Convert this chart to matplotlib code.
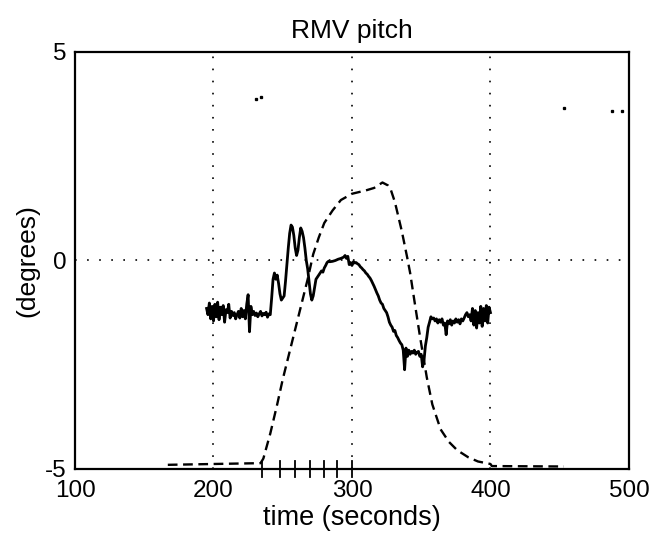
import matplotlib
matplotlib.use("Agg")
import matplotlib.pyplot as plt

plt.rcParams['font.family'] = ['Liberation Sans', 'DejaVu Sans']
plt.rcParams['lines.scale_dashes'] = False
plt.rcParams['axes.unicode_minus'] = False

# measured pitch (solid, noisy)
t_meas = [195, 196, 197, 198, 199, 200, 201, 202, 203, 204, 205, 206, 207, 208, 209,
          210, 211, 212, 213, 214, 215, 216, 217, 218, 219, 220, 221, 222, 223, 224,
          225, 226, 227, 228, 229, 230, 231, 232, 233, 234, 235, 236, 237, 238, 239,
          240, 241, 242, 243, 244, 245, 246, 247, 248, 249, 250, 251, 252, 253, 254,
          255, 256, 257, 258, 259, 260, 261, 262, 263, 264, 265, 266, 267, 268, 269,
          270, 271, 272, 273, 274, 275, 276, 277, 278, 279, 280, 281, 282, 283, 284,
          286, 288, 290, 292, 294, 295, 296, 297, 298, 299, 300, 301, 302, 303, 304,
          305, 306, 307, 308, 309, 310, 311, 312, 313, 314, 315, 316, 317, 318, 319,
          320, 321, 322, 323, 324, 325, 326, 327, 328, 329, 330, 331, 332, 333, 334,
          335, 336, 337, 338, 339, 340, 341, 342, 343, 344, 345, 346, 347, 348, 349,
          350, 351, 352, 353, 354, 355, 356, 357, 358, 359, 360, 361, 362, 363, 364,
          365, 366, 367, 368, 369, 370, 371, 372, 373, 374, 375, 376, 377, 378, 379,
          380, 381, 382, 383, 384, 385, 386, 387, 388, 389, 390, 391, 392, 393, 394,
          395, 396, 397, 398, 399, 400]
pitch_meas = [-1.15, -1.30, -1.02, -1.40, -1.10, -1.45, -1.05, -1.35, -1.00, -1.42,
              -1.12, -1.30, -1.08, -1.48, -1.18, -1.25, -1.05, -1.38, -1.22, -1.32,
              -1.25, -1.40, -1.30, -1.22, -1.38, -1.15, -1.35, -1.20, -1.40, -1.05,
              -0.82, -1.71, -1.10, -1.30, -1.22, -1.32, -1.26, -1.35, -1.28, -1.22,
              -1.33, -1.27, -1.30, -1.24, -1.36, -1.28, -1.30, -0.90, -0.45, -0.30,
              -0.45, -0.35, -0.55, -0.80, -0.95, -0.90, -0.85, -0.50, -0.10, 0.30,
              0.65, 0.85, 0.80, 0.60, 0.30, 0.12, 0.25, 0.55, 0.78, 0.70,
              0.55, 0.30, 0.00, -0.20, -0.50, -0.80, -0.95, -0.85, -0.65, -0.45,
              -0.40, -0.35, -0.30, -0.25, -0.28, -0.18, -0.12, -0.05, -0.02, -0.03,
              -0.02, 0.00, 0.03, 0.05, 0.08, 0.12, 0.05, 0.10, -0.10, -0.05,
              -0.12, -0.03, -0.06, -0.05, -0.08, -0.10, -0.15, -0.18, -0.22, -0.25,
              -0.30, -0.33, -0.38, -0.42, -0.48, -0.55, -0.62, -0.70, -0.78, -0.85,
              -0.95, -1.02, -1.05, -1.15, -1.20, -1.25, -1.35, -1.48, -1.55, -1.60,
              -1.70, -1.68, -1.80, -1.85, -1.92, -1.98, -2.02, -2.15, -2.62, -2.10,
              -2.30, -2.15, -2.25, -2.18, -2.22, -2.15, -2.25, -2.20, -2.18, -2.30,
              -2.25, -2.55, -2.40, -2.05, -1.85, -1.60, -1.48, -1.35, -1.40, -1.38,
              -1.45, -1.40, -1.50, -1.42, -1.48, -1.40, -1.55, -1.50, -1.78, -1.45,
              -1.52, -1.42, -1.55, -1.45, -1.50, -1.40, -1.48, -1.42, -1.52, -1.40,
              -1.45, -1.38, -1.30, -1.25, -1.35, -1.30, -1.45, -1.15, -1.55, -1.20,
              -1.62, -1.25, -1.50, -1.10, -1.58, -1.15, -1.45, -1.08, -1.50, -1.12,
              -1.25]

# commanded / model pitch (dashed)
t_cmd = [167, 200, 234, 236, 241, 246, 250, 256, 262, 268, 272, 276, 280, 286, 292,
         300, 310, 316, 322, 326, 328, 331, 336, 340, 342, 345, 349, 354, 358, 364,
         370, 376, 384, 391, 400, 401, 453]
pitch_cmd = [-4.90, -4.88, -4.86, -4.75, -4.15, -3.45, -2.85, -2.05, -1.25, -0.45,
             0.15, 0.55, 0.90, 1.20, 1.45, 1.60, 1.68, 1.74, 1.87, 1.80,
             1.70, 1.40, 0.70, 0.05, -0.30, -0.95, -1.80, -2.80, -3.45, -4.05,
             -4.35, -4.55, -4.72, -4.82, -4.88, -4.93, -4.94]

# event marks along the bottom
event_t = [235, 248, 259, 270, 280, 289, 300]

# stray specks in the scan
speck_x = [231, 234, 453, 488, 495]
speck_y = [3.88, 3.92, 3.65, 3.58, 3.58]

fig = plt.figure(figsize=(6.54, 5.42), dpi=100)
ax = fig.add_axes([0.1147, 0.1347, 0.847, 0.7694])

for g in [200, 300, 400]:
    ax.plot([g, g], [-5, 5], color='k', lw=1.2, linestyle=(0, (1.2, 7.5)), zorder=1)
ax.plot([100, 500], [0, 0], color='k', lw=1.2, linestyle=(0, (1.2, 7.5)), zorder=1)

ax.plot(t_meas, pitch_meas, color='k', lw=2.0, zorder=3)
ax.plot(t_cmd, pitch_cmd, color='k', lw=1.7, linestyle=(0, (7, 4)), zorder=3)

for e in event_t:
    ax.plot([e, e], [-5.2, -4.82], color='k', lw=1.3, clip_on=False, zorder=4)

ax.plot(speck_x, speck_y, 's', color='k', ms=1.4, zorder=2)

ax.set_xlim(100, 500)
ax.set_ylim(-5, 5)
ax.set_xticks([100, 200, 300, 400, 500])
ax.set_yticks([-5, 0, 5])
ax.tick_params(length=0, labelsize=17.5)
ax.tick_params(axis='x', pad=8)
ax.tick_params(axis='y', pad=6)
for s in ax.spines.values():
    s.set_linewidth(1.6)

ax.set_title('RMV pitch', fontsize=19, pad=10)
ax.set_xlabel('time (seconds)', fontsize=19.5, labelpad=2)
ax.set_ylabel('(degrees)', fontsize=19, labelpad=4)

fig.savefig('out.png', dpi=100)
